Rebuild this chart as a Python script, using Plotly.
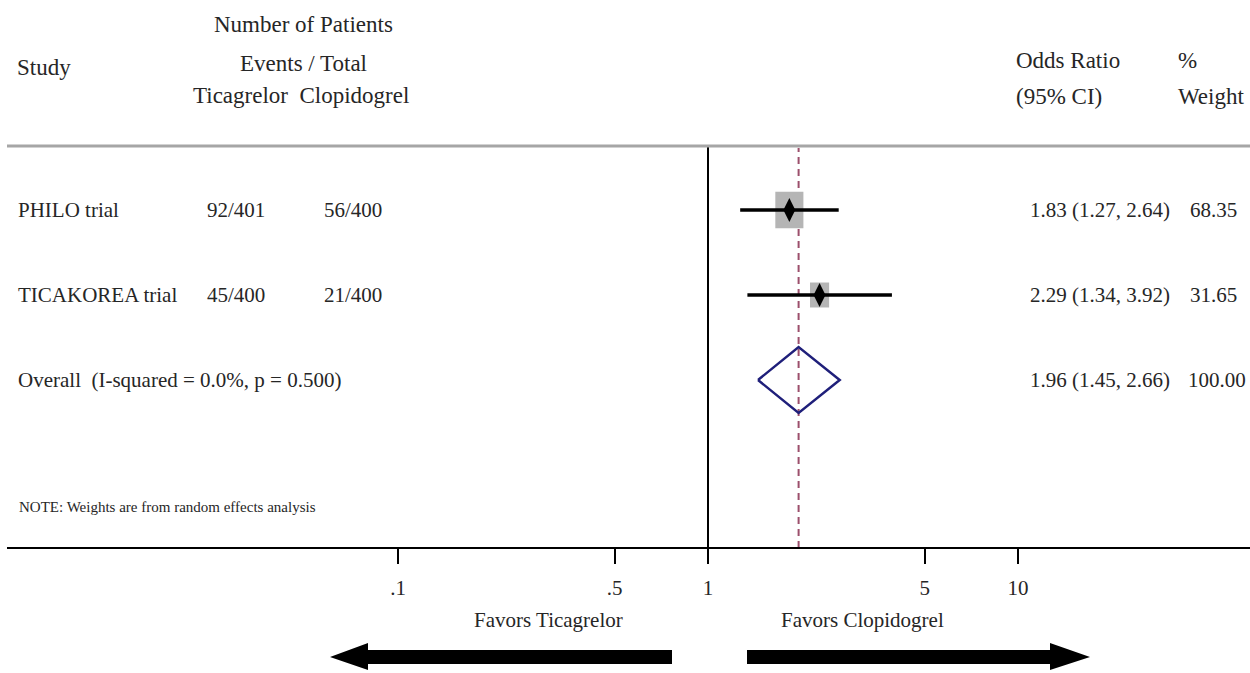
import plotly.graph_objects as go

# ---------------- data ----------------
studies = ["PHILO trial", "TICAKOREA trial"]
tica_events = ["92/401", "45/400"]
clop_events = ["56/400", "21/400"]
odds_ratio = [1.83, 2.29]
ci_low = [1.27, 1.34]
ci_high = [2.64, 3.92]
weights = [68.35, 31.65]

overall_label = "Overall\u00a0\u00a0(I-squared = 0.0%, p = 0.500)"
overall_or = 1.96
overall_low = 1.45
overall_high = 2.66
overall_weight = 100.00

tick_vals = [0.1, 0.5, 1, 5, 10]
tick_text = [".1", ".5", "1", "5", "10"]
null_value = 1

# ---------------- layout helpers ----------------
W, H = 1250, 673
FONT = "Liberation Serif"
TXT = "#262626"


def px(x):
    return x / W


def py(y):
    return 1 - y / H


rows = list(range(1, len(studies) + 1))
overall_row = len(studies) + 1
# row r sits at pixel 210 + (r-1)*85
ROW0, ROWH = 210, 85
y_top = 1 + (0 - ROW0) / ROWH
y_bot = 1 + (H - ROW0) / ROWH

AX_Y = 548  # x axis line pixel
HDR_Y = 146  # header rule pixel
X_LEFT_PX, ONE_PX, DEC_PX = 7, 708, 310
x_range = [(X_LEFT_PX - ONE_PX) / DEC_PX, (W - ONE_PX) / DEC_PX]

fig = go.Figure()

# weight boxes (area proportional to weight) as filled polygons
for e, r, w in zip(odds_ratio, rows, weights):
    hw = 1.7 * w ** 0.5 / DEC_PX        # half width in decades
    hh = 2.22 * w ** 0.5 / ROWH         # half height in row units
    xl, xr = e / 10 ** hw, e * 10 ** hw
    fig.add_trace(go.Scatter(
        x=[xl, xr, xr, xl, xl], y=[r - hh, r - hh, r + hh, r + hh, r - hh],
        mode="lines", fill="toself", fillcolor="#b5b5b5",
        line=dict(width=0, color="#b5b5b5"),
        showlegend=False, hoverinfo="skip",
    ))

# CI lines + point estimates
fig.add_trace(go.Scatter(
    x=odds_ratio, y=rows, mode="markers",
    marker=dict(symbol="diamond-tall", size=17, color="black"),
    error_x=dict(type="data", symmetric=False,
                 array=[h - e for h, e in zip(ci_high, odds_ratio)],
                 arrayminus=[e - l for e, l in zip(odds_ratio, ci_low)],
                 color="black", thickness=3.5, width=0),
    showlegend=False, hoverinfo="skip",
))

# overall diamond
dh = 33 / ROWH
fig.add_trace(go.Scatter(
    x=[overall_low, overall_or, overall_high, overall_or, overall_low],
    y=[overall_row, overall_row - dh, overall_row, overall_row + dh, overall_row],
    mode="lines", line=dict(color="#1f1f7a", width=2.5),
    showlegend=False, hoverinfo="skip",
))

shapes = []
# null line
shapes.append(dict(type="line", xref="x", yref="paper",
                   x0=null_value, x1=null_value, y0=py(AX_Y), y1=py(HDR_Y + 1),
                   line=dict(color="black", width=2)))
# overall effect dashed line
shapes.append(dict(type="line", xref="x", yref="paper", layer="below",
                   x0=overall_or, x1=overall_or, y0=py(AX_Y), y1=py(HDR_Y + 2),
                   line=dict(color="#9c4f6c", width=2, dash="7px,5px")))
# header rule
shapes.append(dict(type="line", xref="paper", yref="paper",
                   x0=px(7), x1=1, y0=py(HDR_Y), y1=py(HDR_Y),
                   line=dict(color="#a6a6a6", width=3)))


def poly(points):
    d = "M " + " L ".join(f"{px(a):.5f},{py(b):.5f}" for a, b in points) + " Z"
    return d


# arrows
left_arrow = [(330, 657), (368, 643), (368, 650), (672, 650), (672, 664),
              (368, 664), (368, 670)]
right_arrow = [(1090, 657), (1050, 643), (1050, 650), (747, 650), (747, 664),
               (1050, 664), (1050, 670)]
for pts in (left_arrow, right_arrow):
    shapes.append(dict(type="path", xref="paper", yref="paper", path=poly(pts),
                       fillcolor="black", line=dict(color="black", width=0)))

annotations = []


def txt(text, x, y, size=21, xanchor="left", yref="paper"):
    annotations.append(dict(text=text, x=x, y=y, xref="paper", yref=yref,
                            xanchor=xanchor, yanchor="middle", showarrow=False,
                            font=dict(family=FONT, size=size, color=TXT)))


# headers
txt("Study", px(15), py(68), 23)
txt("Number of Patients", px(303), py(25), 23, "center")
txt("Events / Total", px(303), py(63), 23, "center")
txt("Ticagrelor\u00a0\u00a0Clopidogrel", px(301), py(96), 23, "center")
txt("Odds Ratio", px(1014), py(60), 23)
txt("(95% CI)", px(1014), py(97), 23)
txt("%", px(1176), py(60), 23)
txt("Weight", px(1176), py(97), 23)

# study rows
for s, t, c, e, lo, hi, w, r in zip(studies, tica_events, clop_events,
                                    odds_ratio, ci_low, ci_high, weights, rows):
    txt(s, px(16), r, 21, yref="y")
    txt(t, px(205), r, 21, yref="y")
    txt(c, px(322), r, 21, yref="y")
    txt(f"{e:.2f} ({lo:.2f}, {hi:.2f})", px(1028), r, 21, yref="y")
    txt(f"{w:.2f}", px(1188), r, 21, yref="y")

txt(overall_label, px(16), overall_row, 21, yref="y")
txt(f"{overall_or:.2f} ({overall_low:.2f}, {overall_high:.2f})", px(1028),
    overall_row, 21, yref="y")
txt(f"{overall_weight:.2f}", px(1186), overall_row, 21, yref="y")

txt("NOTE: Weights are from random effects analysis", px(17), py(507), 15)
txt("Favors Ticagrelor", px(548), py(620), 21, "center")
txt("Favors Clopidogrel", px(862), py(620), 21, "center")

fig.update_layout(
    width=W, height=H, autosize=False,
    margin=dict(l=0, r=0, t=0, b=0, pad=0),
    paper_bgcolor="white", plot_bgcolor="white",
    shapes=shapes, annotations=annotations,
    xaxis=dict(type="log", range=x_range, domain=[px(X_LEFT_PX), 1],
               anchor="free", position=py(AX_Y),
               showline=True, linecolor="black", linewidth=2,
               ticks="outside", ticklen=15, tickwidth=2, tickcolor="black",
               ticklabelstandoff=6,
               tickvals=tick_vals, ticktext=tick_text,
               tickfont=dict(family=FONT, size=21, color=TXT),
               showgrid=False, zeroline=False, fixedrange=True),
    yaxis=dict(range=[y_bot, y_top], domain=[0, 1], visible=False,
               showgrid=False, zeroline=False, fixedrange=True),
)

fig.write_html("out.html")
